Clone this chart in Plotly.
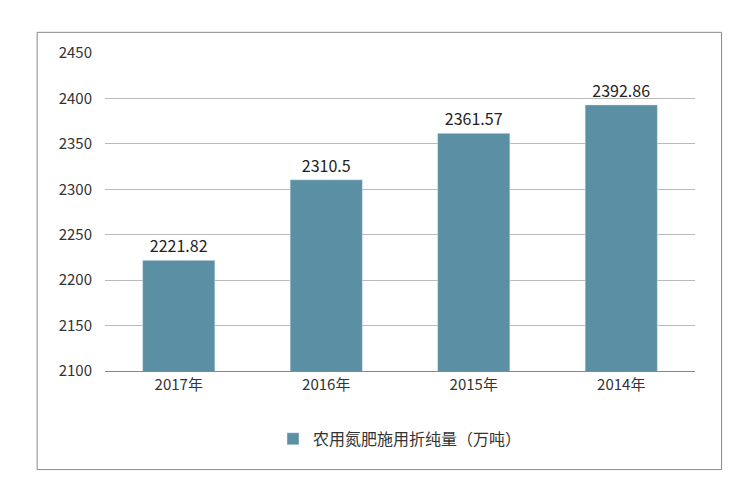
import plotly.graph_objects as go

categories = ["2017年", "2016年", "2015年", "2014年"]
values = [2221.82, 2310.5, 2361.57, 2392.86]
labels = ["2221.82", "2310.5", "2361.57", "2392.86"]
series_name = "农用氮肥施用折纯量（万吨）"

fig = go.Figure(go.Bar(
    x=categories, y=values, name=series_name,
    marker_color="#5B8FA3", width=0.49,
    text=labels, textposition="outside", cliponaxis=False,
    textfont=dict(size=16, color="#222"),
))
fig.update_layout(
    width=750, height=500,
    margin=dict(l=97, r=63, t=45, b=137),
    paper_bgcolor="white", plot_bgcolor="white",
    font=dict(family="Noto Sans CJK SC", size=15, color="#333"),
    showlegend=True,
    legend=dict(orientation="h", x=0.5, xanchor="center", y=-0.16, yanchor="top",
                font=dict(size=16)),
    yaxis=dict(range=[2100, 2450], dtick=50, showgrid=True, gridcolor="#BBBBBB",
               gridwidth=1, zeroline=False, ticks="", tickfont=dict(size=15),
               ticklabelstandoff=12),
    xaxis=dict(showline=True, linecolor="#888", tickfont=dict(size=15), ticks=""),
    shapes=[dict(type="rect", xref="paper", yref="paper",
                 x0=-0.115, x1=1.045, y0=-0.31, y1=1.065,
                 line=dict(color="#888", width=1))],
)
fig.write_html("out.html")
